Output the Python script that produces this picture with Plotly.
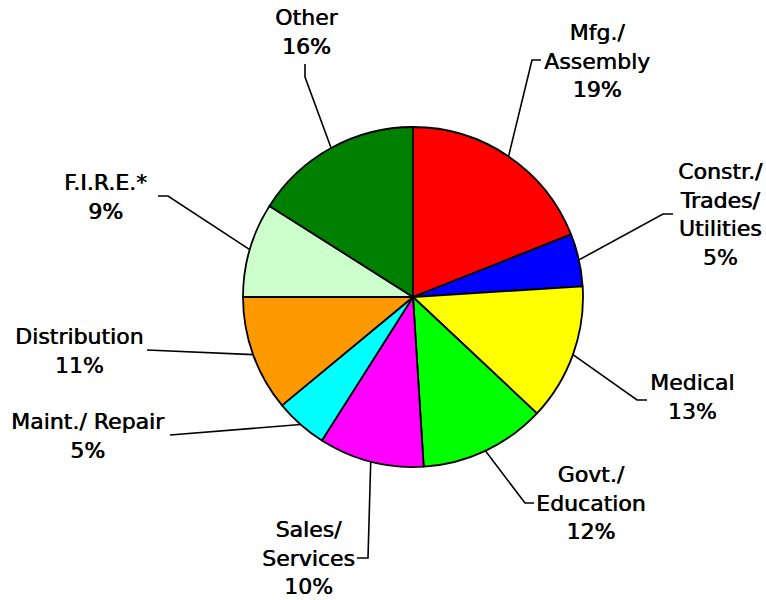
import math
import plotly.graph_objects as go

# ---------------- data ----------------
categories = ["Mfg./<br>Assembly", "Constr./<br>Trades/<br>Utilities", "Medical",
              "Govt./<br>Education", "Sales/<br>Services", "Maint./ Repair",
              "Distribution", "F.I.R.E.*", "Other"]
shares = [19, 5, 13, 12, 10, 5, 11, 9, 16]
colors = ["#FF0000", "#0000FF", "#FFFF00", "#00FF00", "#FF00FF",
          "#00FFFF", "#FF9900", "#CCFFCC", "#008000"]

# ---------------- layout (pixels) ----------------
W, H = 766, 600
CX, CY, R = 413, 297, 170
# label block centres
label_pos = [(597, 61), (720, 214), (692, 397), (591, 503), (308, 558),
             (88, 436), (79, 351), (105, 197), (306, 32)]
# leader-line elbow and end points
leader = [((532, 60), (541, 60)), ((663, 214), (673, 214)), ((637, 400), (647, 400)),
          ((525, 503), (534, 503)), ((368, 558), (357, 558)), ((170, 435), (170, 435)),
          ((147, 350), (147, 350)), ((168, 196), (158, 196)), ((305, 77), (305, 64))]


def px(x):
    return x / W


def py(y):
    return 1 - y / H


fig = go.Figure(go.Pie(
    labels=[c.replace("<br>", " ") for c in categories],
    values=shares,
    sort=False,
    direction="clockwise",
    rotation=0,
    marker=dict(colors=colors, line=dict(color="black", width=1.8)),
    textinfo="none",
    hoverinfo="label+percent",
    domain=dict(x=[px(CX - R), px(CX + R)], y=[py(CY + R), py(CY - R)]),
    showlegend=False,
))

total = sum(shares)
cum = 0
shapes = []
annotations = []
for cat, v, (lx, ly), (elbow, end) in zip(categories, shares, label_pos, leader):
    ang = math.radians(360 * (cum + v / 2) / total)
    cum += v
    sx = CX + R * math.sin(ang)
    sy = CY - R * math.cos(ang)
    path = f"M {px(sx)} {py(sy)} L {px(elbow[0])} {py(elbow[1])} L {px(end[0])} {py(end[1])}"
    shapes.append(dict(type="path", path=path, xref="paper", yref="paper",
                       line=dict(color="black", width=1.6)))
    pct = round(100 * v / total)
    annotations.append(dict(text=f"{cat}<br>{pct}%", x=px(lx), y=py(ly),
                            xref="paper", yref="paper", xanchor="center",
                            yanchor="middle", showarrow=False, align="center",
                            font=dict(family="DejaVu Sans", size=22, color="black",
                                      shadow="0.6px 0px 0px black")))

fig.update_layout(width=W, height=H, margin=dict(l=0, r=0, t=0, b=0),
                  paper_bgcolor="white", plot_bgcolor="white",
                  shapes=shapes, annotations=annotations)

fig.write_html("out.html", config={"displayModeBar": False},
               post_script="document.body.style.margin='0';"
               "document.body.style.overflow='hidden';")
